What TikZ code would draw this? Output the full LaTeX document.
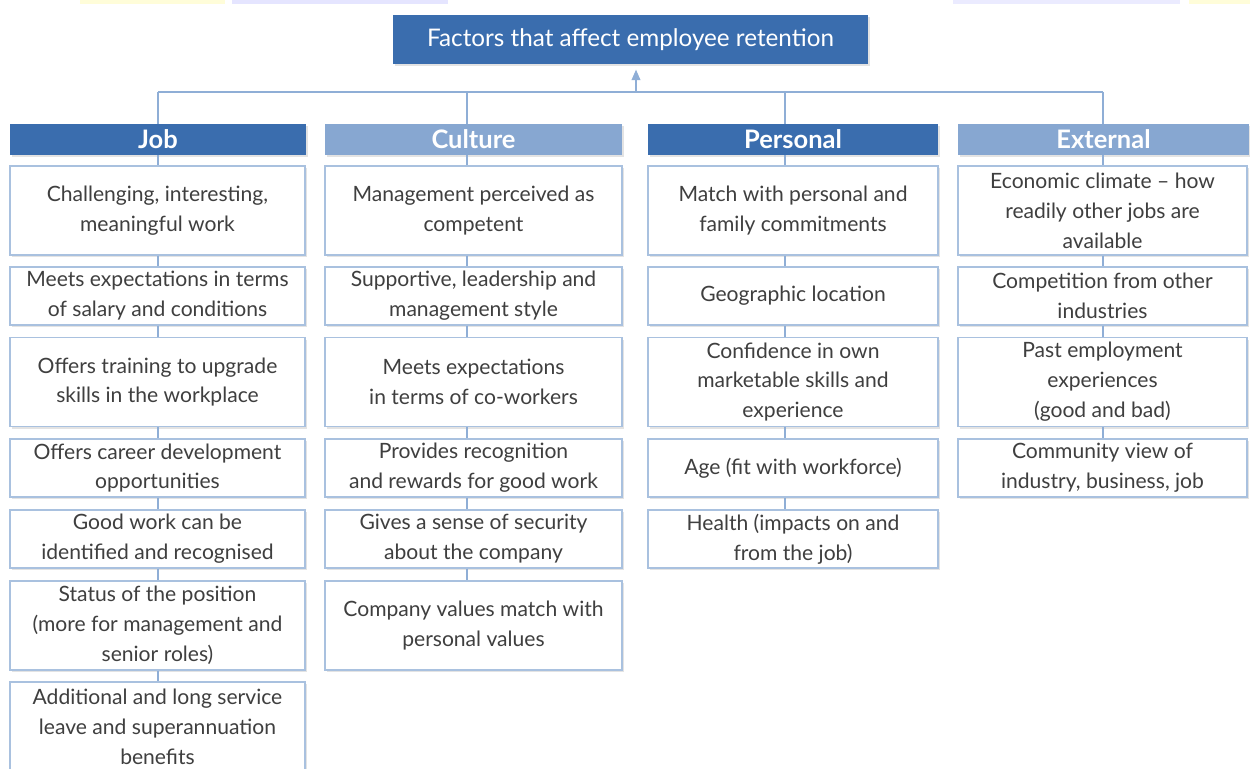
\documentclass[tikz,border=0pt]{standalone}
\usepackage{fontspec}
\setmainfont{Lato}
\usetikzlibrary{arrows.meta,shadows}

\definecolor{darkbar}{HTML}{3A6DAE}
\definecolor{lightbar}{HTML}{87A7D1}
\definecolor{boxline}{HTML}{A9C1DF}
\definecolor{linkline}{HTML}{8FAED6}
\definecolor{bodytext}{HTML}{3F3F3F}

\begin{document}
\begin{tikzpicture}[x=0.02cm, y=-0.02cm]

\tikzset{
    softshadow/.style={drop shadow={shadow xshift=1.2pt, shadow yshift=-1.2pt, opacity=0.22}},
    factor/.style={draw=boxline, line width=0.8pt, fill=white, align=center, text=bodytext,
        inner sep=2pt, font=\fontsize{12}{17}\selectfont, softshadow},
    tallbox/.style={minimum height=1.78cm},
    lowbox/.style={minimum height=1.16cm},
    headbar/.style={minimum height=0.58cm, text=white, font=\bfseries\fontsize{14.5}{16}\selectfont, softshadow},
    link/.style={draw=linkline, line width=0.8pt}
}
\useasboundingbox (0,0) rectangle (1250,768);

% faint strips along the upper edge
\fill[yellow!60!white, opacity=0.25] (80,0) rectangle (225,4);
\fill[blue!40!white, opacity=0.25] (232,0) rectangle (448,4);
\fill[blue!40!white, opacity=0.2] (953,0) rectangle (1180,4);
\fill[yellow!60!white, opacity=0.25] (1189,0) rectangle (1250,4);

\node[fill=darkbar, text=white, minimum width=9.5cm, minimum height=0.98cm,
    font=\fontsize{13.8}{15}\selectfont, softshadow] (title) at (630.5,39.5) {Factors that affect employee retention};

% column heads
\node[headbar, fill=darkbar, minimum width=5.92cm] (jbar) at (158,139.5) {Job};
\node[headbar, fill=lightbar, minimum width=5.94cm] (cbar) at (473.5,139.5) {Culture};
\node[headbar, fill=darkbar, minimum width=5.8cm] (pbar) at (793,139.5) {Personal};
\node[headbar, fill=lightbar, minimum width=5.82cm] (ebar) at (1103.5,139.5) {External};

% Job
\begin{scope}[every node/.append style={minimum width=5.9cm}]
\node[factor, tallbox] (j1) at (157.5,210.5) {Challenging, interesting,\\meaningful work};
\node[factor, lowbox] (j2) at (157.5,296) {Meets expectations in terms\\of salary and conditions};
\node[factor, tallbox] (j3) at (157.5,382) {Offers training to upgrade\\skills in the workplace};
\node[factor, lowbox] (j4) at (157.5,468) {Offers career development\\opportunities};
\node[factor, lowbox] (j5) at (157.5,539) {Good work can be\\identified and recognised};
\node[factor, tallbox] (j6) at (157.5,625.5) {Status of the position\\(more for management and\\senior roles)};
\node[factor, tallbox] (j7) at (157.5,726.5) {Additional and long service\\leave and superannuation\\benefits};
\end{scope}

% Culture
\begin{scope}[every node/.append style={minimum width=5.94cm}]
\node[factor, tallbox] (c1) at (473.5,210.5) {Management perceived as\\competent};
\node[factor, lowbox] (c2) at (473.5,296) {Supportive, leadership and\\management style};
\node[factor, tallbox] (c3) at (473.5,382) {Meets expectations\\in terms of co-workers};
\node[factor, lowbox] (c4) at (473.5,468) {Provides recognition\\and rewards for good work};
\node[factor, lowbox] (c5) at (473.5,539) {Gives a sense of security\\about the company};
\node[factor, tallbox] (c6) at (473.5,625.5) {Company values match with\\personal values};
\end{scope}

% Personal
\begin{scope}[every node/.append style={minimum width=5.8cm}]
\node[factor, tallbox] (p1) at (793,210.5) {Match with personal and\\family commitments};
\node[factor, lowbox] (p2) at (793,296) {Geographic location};
\node[factor, tallbox] (p3) at (793,382) {Confidence in own\\marketable skills and\\experience};
\node[factor, lowbox] (p4) at (793,468) {Age (fit with workforce)};
\node[factor, lowbox] (p5) at (793,539) {Health (impacts on and\\from the job)};
\end{scope}

% External
\begin{scope}[every node/.append style={minimum width=5.78cm}]
\node[factor, tallbox] (e1) at (1102.5,210.5) {Economic climate -- how\\readily other jobs are\\available};
\node[factor, lowbox] (e2) at (1102.5,296) {Competition from other\\industries};
\node[factor, tallbox] (e3) at (1102.5,382) {Past employment\\experiences\\(good and bad)};
\node[factor, lowbox] (e4) at (1102.5,468) {Community view of\\industry, business, job};
\end{scope}

% bus and links
\coordinate (jx) at (158,92);
\coordinate (cx) at (467,92);
\coordinate (px) at (785,92);
\coordinate (ex) at (1103,92);
\coordinate (up) at (636,92);

\draw[link] (jx) -- (ex);
\draw[link, -{Triangle[length=6pt,width=5pt]}, shorten >=3pt] (up) -- (title.south -| up);
\draw[link] (jx) -- (jbar.north -| jx) (cx) -- (cbar.north -| cx)
    (px) -- (pbar.north -| px) (ex) -- (ebar.north -| ex);

\draw[link] (jbar.south -| jx) -- (j1.north -| jx) (j1.south -| jx) -- (j2.north -| jx)
    (j2.south -| jx) -- (j3.north -| jx) (j3.south -| jx) -- (j4.north -| jx)
    (j4.south -| jx) -- (j5.north -| jx) (j5.south -| jx) -- (j6.north -| jx)
    (j6.south -| jx) -- (j7.north -| jx);
\draw[link] (cbar.south -| cx) -- (c1.north -| cx) (c1.south -| cx) -- (c2.north -| cx)
    (c2.south -| cx) -- (c3.north -| cx) (c3.south -| cx) -- (c4.north -| cx)
    (c4.south -| cx) -- (c5.north -| cx) (c5.south -| cx) -- (c6.north -| cx);
\draw[link] (pbar.south -| px) -- (p1.north -| px) (p1.south -| px) -- (p2.north -| px)
    (p2.south -| px) -- (p3.north -| px) (p3.south -| px) -- (p4.north -| px)
    (p4.south -| px) -- (p5.north -| px);
\draw[link] (ebar.south -| ex) -- (e1.north -| ex) (e1.south -| ex) -- (e2.north -| ex)
    (e2.south -| ex) -- (e3.north -| ex) (e3.south -| ex) -- (e4.north -| ex);

\end{tikzpicture}
\end{document}
